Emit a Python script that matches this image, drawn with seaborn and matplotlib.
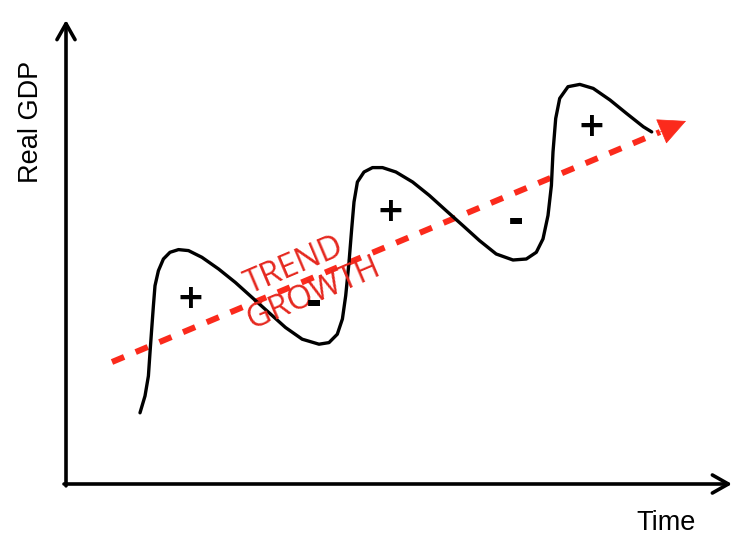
import matplotlib.pyplot as plt
import seaborn as sns

# business cycle curve (time, real GDP in plot units)
cycle_time = [74, 79, 82.4, 84, 85.7, 87.4, 89, 92.4, 97.4, 104, 112.5, 122.5, 135.9, 152.6,
              169.3, 186, 202.8, 219.5, 236.2, 253, 263, 271.3, 276.4, 279.7, 283, 285.7,
              288, 291.4, 298, 306.5, 316.5, 329.9, 346.6, 363.3, 380, 396.8, 413.5, 430.2,
              447, 460.3, 470.3, 477, 482, 485.4, 487, 489.7, 493.7, 502, 513.8, 527.2,
              544, 560.6, 577.4, 585.7]
cycle_gdp = [71.2, 88, 108, 131.4, 155, 178.2, 198.3, 213.3, 225, 231.7, 234.4, 233.4, 226.7,
             215, 201.6, 186.6, 171.5, 156.5, 144.8, 139.8, 141.4, 149.8, 165, 188.3, 221.7,
             255.2, 282, 302, 312, 316.4, 316.4, 312, 302, 288.6, 273.5, 258.5, 243.4, 230,
             224, 225, 231.7, 245.1, 268.5, 298.6, 332, 365.5, 385.6, 397.3, 399.6, 395.6,
             384, 370.5, 357.2, 352.1]

# trend growth line and its arrow tip
trend_time = [46, 594]
trend_gdp = [122, 352]
trend_tip = (620, 363)

# labels along the trend (baseline centres)
trend_labels = ["TREND", "GROWTH"]
trend_label_time = [231.6, 250.6]
trend_label_gdp = [210, 183]

# expansion / contraction signs (baseline positions)
plus_time = [124.2, 324.9, 525.5]
plus_gdp = [176.3, 263.2, 348.5]
minus_time = [248, 450.3]
minus_gdp = [169, 251]

red_line = "#fb2a1c"
red_text = "#e5281f"

sns.set_style("white")

fig = plt.figure(figsize=(7.5, 5.55), dpi=100)
ax = fig.add_axes([66 / 750, 71 / 555, 666 / 750, 464 / 555])
ax.set_xlim(0, 666)
ax.set_ylim(0, 464)
ax.axis("off")

# axes with open arrowheads
axis_arrow = dict(arrowstyle="->,head_length=1.15,head_width=0.65", mutation_scale=10,
                  lw=2.6, color="black", shrinkA=0, shrinkB=0)
ax.annotate("", xy=(0, 1), xytext=(0, -0.004), xycoords="axes fraction", arrowprops=axis_arrow)
ax.annotate("", xy=(1, 0), xytext=(-0.003, 0), xycoords="axes fraction", arrowprops=axis_arrow)

# trend growth dashed arrow
sns.lineplot(x=trend_time, y=trend_gdp, color=red_line, lw=4.3, linestyle=(0, (2.2, 2.1)),
             dash_capstyle="butt", ax=ax, sort=False, estimator=None)
ax.annotate("", xy=trend_tip, xytext=(trend_time[-1], trend_gdp[-1]),
            arrowprops=dict(arrowstyle="-|>,head_length=1.85,head_width=0.9", mutation_scale=10,
                            lw=0.5, color=red_line, shrinkA=0, shrinkB=0))

# business cycle
sns.lineplot(x=cycle_time, y=cycle_gdp, color="black", lw=2.4, ax=ax, sort=False,
             estimator=None, solid_joinstyle="round", solid_capstyle="round")

for lbl, x, y in zip(trend_labels, trend_label_time, trend_label_gdp):
    ax.text(x, y, lbl, color=red_text, fontsize=23.5, family="Open Sans", rotation=23,
            rotation_mode="anchor", ha="center", va="baseline")

for x, y in zip(plus_time, plus_gdp):
    ax.text(x, y, "+", fontsize=24, family="DejaVu Sans", weight="bold", color="black",
            ha="center", va="baseline")
for x, y in zip(minus_time, minus_gdp):
    ax.text(x, y, "-", fontsize=28, family="DejaVu Sans", weight="bold", color="black",
            ha="center", va="baseline")

fig.text(38 / 750, 1 - 121.5 / 555, "Real GDP", fontsize=19.5, family="Liberation Sans",
         color="black", rotation=90, rotation_mode="anchor", ha="center", va="baseline")
fig.text(666.5 / 750, 1 - 530 / 555, "Time", fontsize=19.5, family="Liberation Sans",
         color="black", ha="center", va="baseline")

fig.savefig("out.png", dpi=100)
